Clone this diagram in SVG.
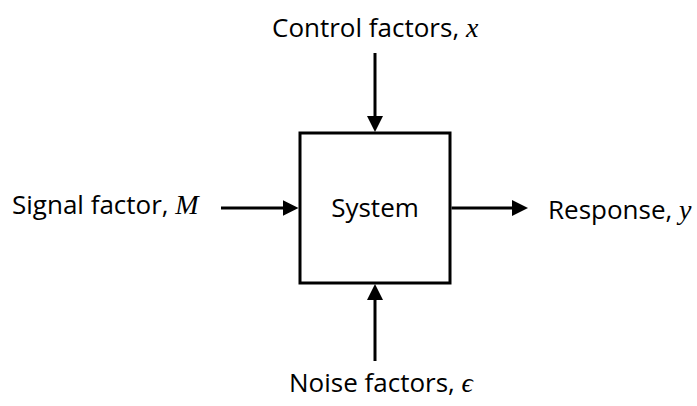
<svg xmlns="http://www.w3.org/2000/svg" width="697" height="406" viewBox="0 0 697 406">
  <defs>
    <marker id="arrow" markerUnits="userSpaceOnUse" markerWidth="17" markerHeight="17" refX="3" refY="8" orient="auto">
      <path d="M0,0 L16,8 L0,16 z" fill="#000"/>
    </marker>
    <style>
      .lbl { font-family: "Open Sans", "Liberation Sans", sans-serif; font-size: 26px; fill: #000; }
      .var { font-family: "Liberation Serif", "DejaVu Serif", serif; font-style: italic; font-size: 28px; }
      .conn { stroke: #000; stroke-width: 3; fill: none; marker-end: url(#arrow); }
    </style>
  </defs>
  <rect width="697" height="406" fill="#fff"/>
  <g id="system">
    <rect x="300" y="133" width="150" height="150" fill="#fff" stroke="#000" stroke-width="3"/>
    <text class="lbl" x="375" y="216.5" text-anchor="middle">System</text>
  </g>
  <g id="control">
    <text class="lbl" x="272" y="36.5">Control factors, <tspan class="var">x</tspan></text>
  </g>
  <g id="signal">
    <text class="lbl" x="12" y="214">Signal factor, <tspan class="var">M</tspan></text>
  </g>
  <g id="response">
    <text class="lbl" x="548" y="219">Response, <tspan class="var">y</tspan></text>
  </g>
  <g id="noise">
    <text class="lbl" x="289" y="392">Noise factors, <tspan class="var">ϵ</tspan></text>
  </g>
  <g id="connectors">
    <line class="conn" x1="375" y1="53" x2="375" y2="119"/>
    <line class="conn" x1="221" y1="208" x2="285.5" y2="208"/>
    <line class="conn" x1="451.5" y1="208" x2="515" y2="208"/>
    <line class="conn" x1="375" y1="361" x2="375" y2="297"/>
  </g>
</svg>
